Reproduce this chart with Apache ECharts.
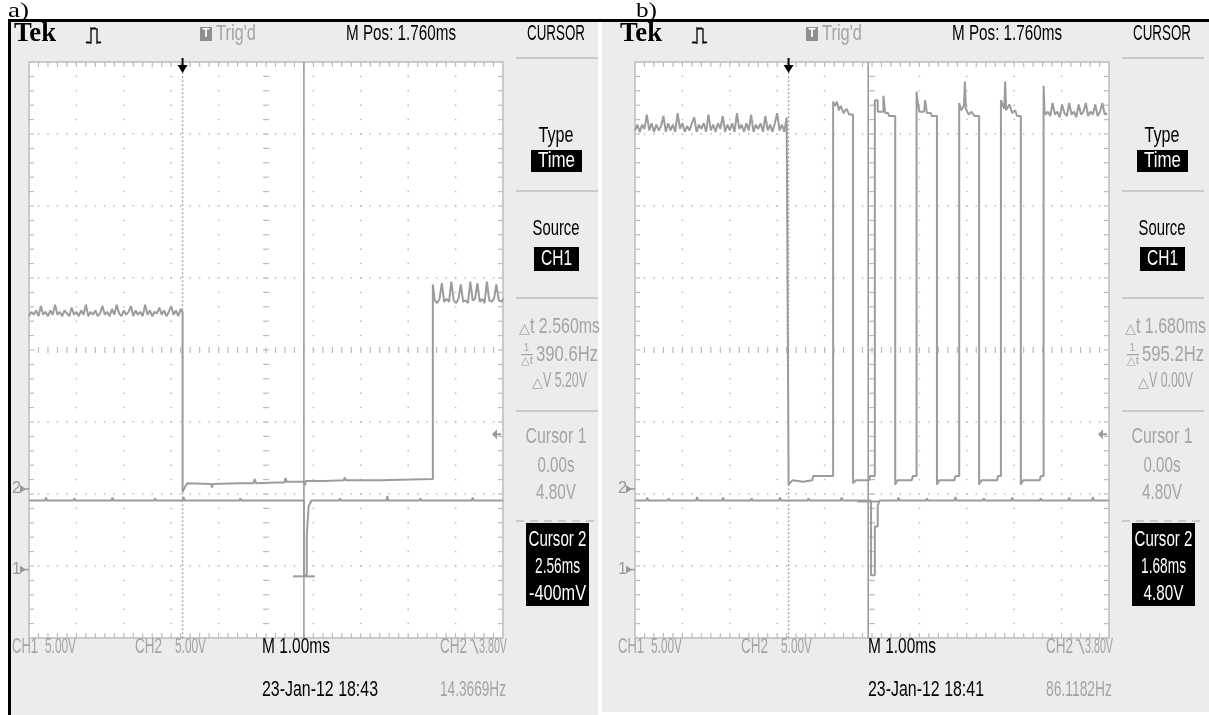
<!DOCTYPE html>
<html>
<head>
<meta charset="utf-8">
<script src="https://cdn.jsdelivr.net/npm/echarts@6/dist/echarts.min.js"></script>
<style>
  html, body { margin: 0; padding: 0; background: #fff; }
  #c { width: 1209px; height: 715px; }
</style>
</head>
<body>
<div id="c"></div>
<script>
// ---------------- scope settings (both captures) ----------------
const TIME_PER_DIV = 1.0;     // ms/div  (M 1.00ms)
const M_POS = 1.76;           // ms      (M Pos: 1.760ms, screen centre)
const VOLTS_PER_DIV = 5.0;    // CH1 / CH2 5.00V
const CH1_GROUND_DIV = -3.05; // CH1 ground marker, divisions from centre
const CH2_GROUND_DIV = -1.93; // CH2 ground marker
const TRIG_LEVEL = 3.8;       // CH2 falling-edge trigger level, V
const SAMPLE_DT = 0.05;       // ms between samples in the noisy runs

// ---------------- capture a) ----------------
// CH2 before the trigger, samples from -3.24 ms (V)
const aCh2Pre = [
  12.0,12.3,12.1,12.4,12.0,12.7,12.1,12.3,12.0,12.4,12.1,12.8,12.1,
  12.3,12.0,12.4,12.2,12.0,12.6,12.1,12.3,12.0,12.4,12.1,12.8,12.0,
  12.3,12.1,12.4,12.0,12.2,12.7,12.1,12.3,12.0,12.5,12.1,12.8,12.2,
  12.0,12.4,12.1,12.3,12.7,12.0,12.4,12.1,12.3,12.0,12.8,12.1,12.4,
  12.0,12.3,12.2,12.6,12.1,12.4,12.0,12.3,12.7,12.1,12.4,12.0,12.5
];
// CH2 falling edge at the trigger, low period, rising edge [ms, V]
const aCh2Low = [
  [0.00,12.3],[0.00,-0.2],[0.06,0.2],[0.10,0.4],[0.60,0.35],[0.62,0.1],[0.64,0.35],
  [1.20,0.4],[1.50,0.4],[1.52,0.7],[1.55,0.4],[2.00,0.45],[2.15,0.45],[2.17,0.75],
  [2.20,0.5],[2.55,0.5],[2.58,0.25],[2.60,0.55],[3.00,0.55],[3.40,0.6],[3.42,0.8],
  [3.45,0.6],[4.20,0.6],[4.80,0.65],[5.28,0.7],[5.28,14.2]
];
// CH2 after the rising edge, samples from 5.32 ms (V)
const aCh2HighStart = 5.32;
const aCh2High = [
  13.1,12.9,13.2,14.3,13.0,13.2,13.0,14.4,13.1,12.9,13.2,14.2,13.0,13.1,12.9,
  14.4,13.1,13.2,14.3,13.0,13.2,12.9,14.4,13.1,13.0,13.2,14.2,13.1,13.0,13.2
];
// CH1 [ms, V]
const aCh1 = [
  [-3.24,4.8],[-2.90,4.8],[-2.88,5.0],[-2.86,4.8],[-2.30,4.8],[-2.28,4.95],[-2.26,4.8],
  [-1.50,4.8],[-1.48,5.0],[-1.46,4.8],[-0.60,4.8],[-0.58,4.95],[-0.56,4.8],[0.00,4.8],
  [0.02,5.05],[0.04,4.8],[1.20,4.8],[1.22,4.95],[1.24,4.8],[2.56,4.8],[2.56,-0.4],
  [2.62,-0.4],[2.62,2.4],[2.66,2.4],[2.66,4.4],[2.72,4.8],[3.30,4.8],[3.32,4.95],
  [3.34,4.8],[4.30,4.8],[4.32,5.1],[4.34,4.8],[5.00,4.8],[5.02,4.95],[5.04,4.8],
  [6.10,4.8],[6.12,5.0],[6.14,4.8],[6.76,4.8]
];

// ---------------- capture b) ----------------
const bCh2Pre = [
  24.9,25.3,24.8,25.3,25.0,26.0,24.9,25.4,24.8,25.3,24.9,25.2,25.9,
  24.8,25.4,24.9,25.3,24.8,26.1,25.0,25.4,24.8,25.2,24.9,25.4,25.8,
  24.8,25.3,25.0,25.4,24.8,26.0,24.9,25.3,24.8,25.4,25.0,25.9,24.8,
  25.3,24.9,25.4,24.8,26.1,25.0,25.3,24.8,25.4,24.9,26.0,24.8,25.3,
  25.0,25.4,24.8,25.9,24.9,25.3,24.8,25.4,26.1,24.9,25.3,24.8,25.8
];
// CH2 pulse train after the trigger [ms, V]
const bCh2Pulses = [
  [0.00,25.8],[0.00,0.3],[0.08,0.6],[0.30,0.5],[0.50,0.6],[0.52,0.9],[0.94,0.9],
  [0.94,26.9],[0.98,26.6],[1.02,26.9],[1.06,26.3],[1.10,26.6],[1.16,26.1],[1.22,26.4],[1.28,26.0],[1.36,26.0],
  [1.36,0.4],[1.42,0.6],[1.70,0.6],[1.72,0.9],[1.82,0.9],
  [1.82,27.0],[1.88,27.0],[1.88,26.2],[2.00,26.2],[2.00,27.3],[2.04,26.1],[2.10,26.1],[2.12,25.9],[2.25,25.9],
  [2.25,0.3],[2.30,0.6],[2.60,0.6],[2.62,0.9],[2.70,0.9],
  [2.70,27.6],[2.72,27.0],[2.76,26.2],[2.86,26.2],[2.88,27.0],[2.92,26.1],[3.00,26.1],[3.02,25.9],[3.13,25.9],
  [3.13,0.3],[3.18,0.6],[3.50,0.6],[3.52,0.9],[3.60,0.9],
  [3.60,26.8],[3.64,26.3],[3.70,26.6],[3.72,28.3],[3.74,26.4],[3.80,26.0],[3.86,26.2],[3.92,25.9],[4.02,25.9],
  [4.02,0.3],[4.07,0.6],[4.40,0.6],[4.42,0.9],[4.48,0.9],
  [4.48,27.0],[4.55,26.4],[4.57,28.3],[4.59,26.3],[4.66,26.7],[4.72,26.1],[4.78,26.3],[4.82,25.9],[4.90,25.9],
  [4.90,0.3],[4.95,0.6],[5.30,0.6],[5.32,0.9],[5.38,0.9],
  [5.38,28.0],[5.40,26.2]
];
const bCh2TailStart = 5.42;
const bCh2Tail = [
  26.0,26.2,25.9,26.8,26.0,26.2,25.8,26.7,26.1,25.9,26.8,26.0,26.2,25.8,
  26.7,26.0,26.2,26.8,25.9,26.2,26.0,26.7,25.9,26.2,26.8,26.0,26.1
];
const bCh1 = [
  [-3.24,4.8],[-3.00,4.8],[-2.98,5.0],[-2.96,4.8],[-2.55,4.8],[-2.53,4.95],[-2.51,4.8],
  [-1.95,4.8],[-1.93,5.05],[-1.91,4.8],[-1.40,4.8],[-1.38,5.0],[-1.36,4.8],[-0.80,4.8],
  [-0.78,4.95],[-0.76,4.8],[-0.20,4.8],[-0.18,5.0],[-0.16,4.8],[0.40,4.8],[0.42,4.95],
  [0.44,4.8],[1.10,4.8],[1.12,5.0],[1.14,4.8],[1.74,4.8],[1.74,-0.4],[1.82,-0.4],
  [1.82,3.0],[1.88,3.0],[1.88,4.4],[1.92,4.8],[2.30,4.8],[2.32,5.0],[2.34,4.8],
  [2.90,4.8],[2.92,4.95],[2.94,4.8],[3.50,4.8],[3.52,5.05],[3.54,4.8],[4.10,4.8],
  [4.12,4.95],[4.14,4.8],[4.70,4.8],[4.72,5.0],[4.74,4.8],[5.30,4.8],[5.32,4.95],
  [5.34,4.8],[5.90,4.8],[5.92,5.0],[5.94,4.8],[6.40,4.8],[6.42,5.05],[6.44,4.8],[6.76,4.8]
];

// ---------------- cursors, readouts ----------------
const cursor1Time = [0.00, 0.00];   // ms
const cursor1Volt = [4.80, 4.80];   // V
const cursor2Time = [2.56, 1.68];   // ms
const cursor2Volt = [-0.40, 4.80];  // V
const captureDates = ['23-Jan-12 18:43', '23-Jan-12 18:41'];
const triggerFreqs = ['14.3669Hz', '86.1182Hz'];
const panelLabels = ['a)', 'b)'];

// ---------------- helpers ----------------
const toDivX = t => (t - M_POS) / TIME_PER_DIV;
const ch1Y = v => v / VOLTS_PER_DIV + CH1_GROUND_DIV;
const ch2Y = v => v / VOLTS_PER_DIV + CH2_GROUND_DIV;
const sampled = (t0, vals, yf) => vals.map((v, i) => [toDivX(t0 + i * SAMPLE_DT), yf(v)]);
const pairs = (list, yf) => list.map(p => [toDivX(p[0]), yf(p[1])]);

const traceA2 = sampled(-3.24, aCh2Pre, ch2Y).concat(pairs(aCh2Low, ch2Y), sampled(aCh2HighStart, aCh2High, ch2Y));
const traceA1 = pairs(aCh1, ch1Y);
const traceB2 = sampled(-3.24, bCh2Pre, ch2Y).concat(pairs(bCh2Pulses, ch2Y), sampled(bCh2TailStart, bCh2Tail, ch2Y));
const traceB1 = pairs(bCh1, ch1Y);

const SCOPE_FONT = '"Liberation Sans", "DejaVu Sans", Arial, sans-serif';
const SERIF = '"Liberation Serif", "DejaVu Serif", "Times New Roman", serif';
const TRACE = '#9c9c9c';
const GRID_COL = '#bcbcbc';
const DIM = '#a4a4a4';
const PANEL_BG = '#ececec';
const PANEL_DX = 606;
const FS = 22;   // scope text size (drawn condensed)

const mctx = document.createElement('canvas').getContext('2d');
function T(str, x, yc, w, size, fill, opts) {
  opts = opts || {};
  const font = (opts.weight || 'normal') + ' ' + size + 'px ' + (opts.family || SCOPE_FONT);
  mctx.font = font;
  const mw = mctx.measureText(str).width;
  const sx = w ? w / mw : 1;
  const left = opts.center ? x - (w || mw) / 2 : x;
  return {
    type: 'text', x: left, y: yc, scaleX: sx, silent: true, z: 5,
    style: { text: str, x: 0, y: 0, font: font, fill: fill, textAlign: 'left',
             textVerticalAlign: 'middle', verticalAlign: 'middle' }
  };
}
function R(x, y, w, h, fill, z) {
  return { type: 'rect', silent: true, z: z || 1, shape: { x: x, y: y, width: w, height: h }, style: { fill: fill } };
}
function L(x1, y1, x2, y2, stroke, lw, dash) {
  return { type: 'line', silent: true, z: 2, shape: { x1: x1, y1: y1, x2: x2, y2: y2 },
           style: { stroke: stroke, lineWidth: lw, lineDash: dash || null } };
}
function P(points, stroke, lw) {
  return { type: 'polyline', silent: true, z: 3, shape: { points: points }, style: { stroke: stroke, lineWidth: lw, fill: null } };
}
const fmt2 = v => v.toFixed(2);

// ---------------- page furniture and readouts ----------------
function buildGraphics() {
  const g = [];
  g.push(R(11, 22, 587, 693, PANEL_BG, 0));
  g.push(R(602, 22, 607, 690, PANEL_BG, 0));
  g.push(R(8, 19, 1201, 3, '#000', 4));
  g.push(R(8, 19, 3, 696, '#000', 4));
  g.push(T(panelLabels[0], 8, 11, 21, 21, '#000', { family: SERIF }));
  g.push(T(panelLabels[1], 636, 11, 21, 21, '#000', { family: SERIF }));

  for (let i = 0; i < 2; i++) {
    const o = i * PANEL_DX;
    const mc = 556 + o;                      // menu column centre
    // header
    g.push(T('Tek', 14 + o, 34, 42, 27, '#000', { weight: 'bold', family: SERIF }));
    g.push(P([[86 + o, 43], [87 + o, 42], [88 + o, 43], [89 + o, 42], [90 + o, 43], [91 + o, 43], [91 + o, 28],
              [92 + o, 29], [93 + o, 28], [94 + o, 29], [95 + o, 28], [96 + o, 29], [97 + o, 29], [97 + o, 43],
              [98 + o, 42], [99 + o, 43], [100 + o, 42], [101 + o, 43]], '#000', 1.3));
    g.push(R(200 + o, 27, 12, 14, '#8e8e8e', 2));
    g.push(T('T', 202.5 + o, 34, 7, 12, '#fff', { weight: 'bold' }));
    g.push(T("Trig'd", 216 + o, 34, 40, FS, DIM));
    g.push(T('M Pos: ' + (M_POS).toFixed(3) + 'ms', 346 + o, 34, 110, FS, '#000'));
    g.push(T('CURSOR', 527 + o, 34, 58, FS, '#000'));

    // menu separators
    const sepX = 516 + o, sepW = 82;
    [57, 190, 297, 410].forEach(y => g.push(R(sepX, y, sepW, 2, '#c9c9c9', 2)));
    g.push(L(sepX, 521, sepX + sepW, 521, '#c9c9c9', 2, [8, 6]));

    // Type / Time
    g.push(T('Type', mc, 136, 35, FS, '#000', { center: true }));
    g.push(R(mc - 25, 150, 51, 22, '#000', 2));
    g.push(T('Time', mc + 0.5, 161, 37, FS, '#fff', { center: true }));
    // Source / CH1
    g.push(T('Source', mc, 229, 47, FS, '#000', { center: true }));
    g.push(R(mc - 22, 247, 45, 24, '#000', 2));
    g.push(T('CH1', mc + 0.5, 259, 31, FS, '#fff', { center: true }));

    // deltas from the two cursors
    const dt = cursor2Time[i] - cursor1Time[i];
    const dv = Math.abs(cursor2Volt[i] - cursor1Volt[i]);
    g.push(T('\u25B3', 519 + o, 329, 11, 14, DIM));
    g.push(T('t ' + dt.toFixed(3) + 'ms', 530 + o, 327, 70, FS, DIM));
    // 1/Δt glyph
    g.push(T('1', 524 + o, 348, 5, 11, DIM));
    g.push(R(521 + o, 354, 12, 1.2, DIM, 2));
    g.push(T('\u25B3t', 521 + o, 361, 12, 11, DIM));
    g.push(T((1000 / dt).toFixed(1) + 'Hz', 536 + o, 355, 62, FS, DIM));
    g.push(T('\u25B3', 532 + o, 383, 11, 14, DIM));
    g.push(T('V ' + fmt2(dv) + 'V', 543 + o, 381, 44, FS, DIM));

    // Cursor 1
    g.push(T('Cursor 1', mc, 437, 61, FS, DIM, { center: true }));
    g.push(T(fmt2(cursor1Time[i]) + 's', mc, 466, 37, FS, DIM, { center: true }));
    g.push(T(fmt2(cursor1Volt[i]) + 'V', mc, 493, 40, FS, DIM, { center: true }));

    // Cursor 2 (selected)
    g.push(R(mc - 30, 523, 63, 83, '#000', 2));
    g.push(T('Cursor 2', mc + 1.5, 540, 58, FS, '#fff', { center: true }));
    g.push(T(fmt2(cursor2Time[i]) + 'ms', mc + 1.5, 567, 45, FS, '#fff', { center: true }));
    const v2 = cursor2Volt[i];
    const v2txt = Math.abs(v2) < 1 ? Math.round(v2 * 1000) + 'mV' : fmt2(v2) + 'V';
    g.push(T(v2txt, mc + 1.5, 594, Math.abs(v2) < 1 ? 57 : 40, FS, '#fff', { center: true }));

    // bottom status lines
    g.push(T('CH1', 12 + o, 647, 26, FS, DIM));
    g.push(T(fmt2(VOLTS_PER_DIV) + 'V', 45 + o, 647, 31, FS, DIM));
    g.push(T('CH2', 135 + o, 647, 27, FS, DIM));
    g.push(T(fmt2(VOLTS_PER_DIV) + 'V', 175 + o, 647, 31, FS, DIM));
    g.push(T('M ' + fmt2(TIME_PER_DIV) + 'ms', 262 + o, 647, 68, FS, '#000'));
    g.push(T('CH2', 440 + o, 647, 27, FS, DIM));
    g.push(P([[470 + o, 640], [473 + o, 640], [478 + o, 654]], DIM, 1.4));
    g.push(T(fmt2(TRIG_LEVEL) + 'V', 479 + o, 647, 28, FS, DIM));
    g.push(T(captureDates[i], 262 + o, 690, 116, FS, '#000'));
    g.push(T(triggerFreqs[i], 440 + o, 690, 66, FS, DIM));
  }
  return g;
}

// ---------------- graticule drawn through the axes ----------------
function graticule(params, api) {
  const c = (x, y) => api.coord([x, y]);
  const kids = [];
  const tl = c(-5, 4), br = c(5, -4);
  kids.push({ type: 'rect', shape: { x: tl[0], y: tl[1], width: br[0] - tl[0], height: br[1] - tl[1] },
              style: { fill: '#fff', stroke: GRID_COL, lineWidth: 1.5 } });
  const dot = q => ({ type: 'rect', shape: { x: q[0] - 0.75, y: q[1] - 0.75, width: 1.5, height: 1.5 }, style: { fill: GRID_COL } });
  const seg = (x1, y1, x2, y2) => ({ type: 'line', shape: { x1: x1, y1: y1, x2: x2, y2: y2 }, style: { stroke: GRID_COL, lineWidth: 1.2 } });
  for (let i = -4; i <= 4; i++) {
    if (i === 0) continue;
    for (let k = -19; k <= 19; k++) kids.push(dot(c(i, k / 5)));
  }
  for (let j = -3; j <= 3; j++) {
    if (j === 0) continue;
    for (let k = -24; k <= 24; k++) kids.push(dot(c(k / 5, j)));
  }
  for (let k = -24; k <= 24; k++) {
    const t = c(k / 5, 4), b = c(k / 5, -4), m = c(k / 5, 0);
    kids.push(seg(t[0], t[1], t[0], t[1] + 5));
    kids.push(seg(b[0], b[1], b[0], b[1] - 5));
    kids.push(seg(m[0], m[1] - 3, m[0], m[1] + 3));
  }
  for (let k = -19; k <= 19; k++) {
    const l = c(-5, k / 5), r = c(5, k / 5), m = c(0, k / 5);
    kids.push(seg(l[0], l[1], l[0] + 5, l[1]));
    kids.push(seg(r[0], r[1], r[0] - 5, r[1]));
    kids.push(seg(m[0] - 3, m[1], m[0] + 3, m[1]));
  }
  return { type: 'group', children: kids };
}

// trigger point, trigger level, ground markers and the cursor 2 cross
function markers(i) {
  return function (params, api) {
    const c = (x, y) => api.coord([x, y]);
    const kids = [];
    const tp = c(toDivX(0), 4);
    kids.push({ type: 'line', shape: { x1: tp[0], y1: tp[1] - 4, x2: tp[0], y2: tp[1] + 6 }, style: { stroke: '#000', lineWidth: 2 } });
    kids.push({ type: 'polygon', shape: { points: [[tp[0] - 5, tp[1] + 3], [tp[0] + 5, tp[1] + 3], [tp[0], tp[1] + 11]] }, style: { fill: '#000' } });
    const lv = c(5, ch2Y(TRIG_LEVEL));
    kids.push({ type: 'polygon', shape: { points: [[lv[0] - 11, lv[1]], [lv[0] - 6, lv[1] - 5], [lv[0] - 6, lv[1] + 5]] }, style: { fill: '#999' } });
    kids.push({ type: 'line', shape: { x1: lv[0] - 7, y1: lv[1], x2: lv[0] - 2, y2: lv[1] }, style: { stroke: '#999', lineWidth: 2 } });
    [['1', CH1_GROUND_DIV], ['2', CH2_GROUND_DIV]].forEach(m => {
      const q = c(-5, m[1]);
      kids.push({ type: 'text', style: { text: m[0], x: q[0] - 17, y: q[1], fill: '#999', font: '16px ' + SCOPE_FONT, textVerticalAlign: 'middle', verticalAlign: 'middle' } });
      kids.push({ type: 'polygon', shape: { points: [[q[0] - 9, q[1] - 4], [q[0] - 9, q[1] + 4], [q[0] - 3, q[1]]] }, style: { fill: '#999' } });
      kids.push({ type: 'line', shape: { x1: q[0] - 8, y1: q[1], x2: q[0], y2: q[1] }, style: { stroke: '#999', lineWidth: 1.5 } });
    });
    const cc = c(toDivX(cursor2Time[i]), ch1Y(cursor2Volt[i]));
    kids.push({ type: 'line', shape: { x1: cc[0] - 11, y1: cc[1] + 1, x2: cc[0] + 11, y2: cc[1] + 1 }, style: { stroke: TRACE, lineWidth: 2 } });
    return { type: 'group', children: kids };
  };
}

const grids = [
  { left: 29, top: 62, width: 474, height: 576 },
  { left: 29 + PANEL_DX, top: 62, width: 474, height: 576 }
];
const xAxes = grids.map((g, i) => ({ type: 'value', gridIndex: i, min: -5, max: 5, interval: 1, show: false }));
const yAxes = grids.map((g, i) => ({ type: 'value', gridIndex: i, min: -4, max: 4, interval: 1, show: false }));

function lineSeries(i, data, opts) {
  opts = opts || {};
  return {
    type: 'line', xAxisIndex: i, yAxisIndex: i, data: data, showSymbol: false, symbol: 'none',
    clip: true, animation: false, silent: true, z: opts.z || 3,
    lineStyle: { color: opts.color || TRACE, width: opts.width || 2, type: opts.type || 'solid' }
  };
}

const traces = [[traceA2, traceA1], [traceB2, traceB1]];
const series = [];
for (let i = 0; i < 2; i++) {
  series.push({ type: 'custom', xAxisIndex: i, yAxisIndex: i, data: [[0, 0]], renderItem: graticule,
                silent: true, animation: false, z: 1, clip: false });
  // trigger position (= cursor 1) and cursor 2
  series.push(lineSeries(i, [[toDivX(cursor1Time[i]), -4], [toDivX(cursor1Time[i]), 4]], { color: '#8f8f8f', width: 1.3, type: [1.5, 2.5], z: 2 }));
  series.push(lineSeries(i, [[toDivX(cursor2Time[i]), -4], [toDivX(cursor2Time[i]), 4]], { color: TRACE, width: 1.6, z: 2 }));
  series.push(lineSeries(i, traces[i][0]));
  series.push(lineSeries(i, traces[i][1]));
  series.push({ type: 'custom', xAxisIndex: i, yAxisIndex: i, data: [[0, 0]], renderItem: markers(i),
                silent: true, animation: false, z: 4, clip: false });
}

const chart = echarts.init(document.getElementById('c'), null, { renderer: 'canvas', width: 1209, height: 715 });
chart.setOption({
  animation: false,
  backgroundColor: '#fff',
  grid: grids,
  xAxis: xAxes,
  yAxis: yAxes,
  graphic: { elements: buildGraphics() },
  series: series
});
</script>
</body>
</html>
